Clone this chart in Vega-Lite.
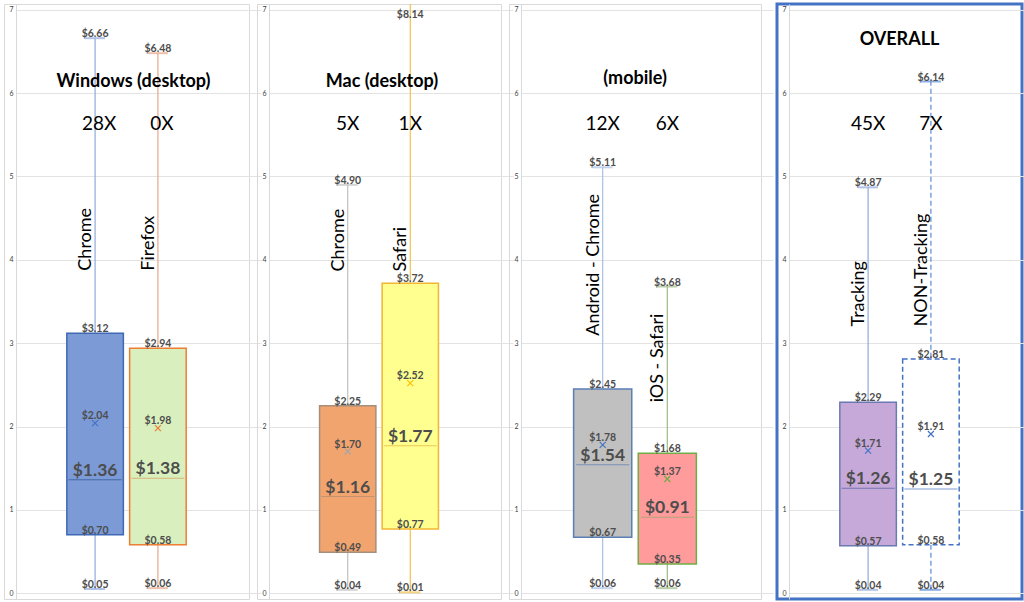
{
  "$schema": "https://vega.github.io/schema/vega-lite/v6.json",
  "background": "white",
  "padding": {"left": 3, "top": 2, "right": 2, "bottom": 2},
  "config": {
    "font": "Lato",
    "view": {"stroke": "#d9d9d9", "strokeWidth": 1},
    "axisY": {"offset": -12, "ticks": false, "labelPadding": 3, "labelFontSize": 7, "labelColor": "#404040", "domainColor": "#d9d9d9", "gridColor": "#e3e3e3", "labelFont": "Lato", "format": "d"}
  },
  "datasets": {
    "stats": [
      {"panel": "win", "title": "Windows (desktop)", "key": "win_chrome", "name": "Chrome", "min": 0.05, "q1": 0.70, "median": 1.36, "mean": 2.04, "q3": 3.12, "max": 6.66, "count": "28X"},
      {"panel": "win", "title": "Windows (desktop)", "key": "win_firefox", "name": "Firefox", "min": 0.06, "q1": 0.58, "median": 1.38, "mean": 1.98, "q3": 2.94, "max": 6.48, "count": "0X"},
      {"panel": "mac", "title": "Mac (desktop)", "key": "mac_chrome", "name": "Chrome", "min": 0.04, "q1": 0.49, "median": 1.16, "mean": 1.70, "q3": 2.25, "max": 4.90, "count": "5X"},
      {"panel": "mac", "title": "Mac (desktop)", "key": "mac_safari", "name": "Safari", "min": 0.01, "q1": 0.77, "median": 1.77, "mean": 2.52, "q3": 3.72, "max": 8.14, "count": "1X"},
      {"panel": "mob", "title": "(mobile)", "key": "and_chrome", "name": "Android - Chrome", "min": 0.06, "q1": 0.67, "median": 1.54, "mean": 1.78, "q3": 2.45, "max": 5.11, "count": "12X"},
      {"panel": "mob", "title": "(mobile)", "key": "ios_safari", "name": "iOS - Safari", "min": 0.06, "q1": 0.35, "median": 0.91, "mean": 1.37, "q3": 1.68, "max": 3.68, "count": "6X"},
      {"panel": "all", "title": "OVERALL", "key": "tracking", "name": "Tracking", "min": 0.04, "q1": 0.57, "median": 1.26, "mean": 1.71, "q3": 2.29, "max": 4.87, "count": "45X"},
      {"panel": "all", "title": "OVERALL", "key": "nontracking", "name": "NON-Tracking", "min": 0.04, "q1": 0.58, "median": 1.25, "mean": 1.91, "q3": 2.81, "max": 6.14, "count": "7X"}
    ]
  },
  "spacing": 13,
  "hconcat": [
    {
      "bounds": "flush",
      "spacing": 8,
      "hconcat": [
        {
          "width": 245, "height": 595,
          "data": {"name": "stats"},
          "transform": [{"filter": "datum.panel == 'win'"}],
          "resolve": {"scale": {"color": "independent"}},
          "encoding": {"x": {"field": "key", "type": "nominal", "sort": null, "axis": null, "scale": {"paddingInner": 0.1, "paddingOuter": 1.125}}},
          "layer": [
            {"mark": {"type": "rule", "clip": true, "strokeWidth": 1.2},
             "encoding": {"y": {"field": "min", "type": "quantitative", "title": null, "scale": {"domain": [-0.07, 7.07], "nice": false, "zero": false}, "axis": {"values": [0, 1, 2, 3, 4, 5, 6, 7]}},
               "y2": {"field": "max"},
               "color": {"field": "key", "type": "nominal", "legend": null, "scale": {"domain": ["win_chrome", "win_firefox", "mac_chrome", "mac_safari", "and_chrome", "ios_safari", "tracking", "nontracking"], "range": ["#8faadc", "#e8a58a", "#c0c0c0", "#f2c14e", "#a9c0e4", "#9dbb85", "#8faadc", "#5b8bd6"]}}}},
            {"mark": {"type": "tick", "clip": true, "size": 20, "thickness": 2},
             "transform": [{"fold": ["min", "max"], "as": ["stat", "value"]}],
             "encoding": {"y": {"field": "value", "type": "quantitative", "title": null, "scale": {"domain": [-0.07, 7.07], "nice": false, "zero": false}},
               "color": {"field": "key", "type": "nominal", "legend": null, "scale": {"domain": ["win_chrome", "win_firefox", "mac_chrome", "mac_safari", "and_chrome", "ios_safari", "tracking", "nontracking"], "range": ["#8faadc", "#e8a58a", "#c0c0c0", "#f2c14e", "#a9c0e4", "#9dbb85", "#8faadc", "#5b8bd6"]}}}},
            {"mark": {"type": "bar", "strokeWidth": 1.5},
             "encoding": {"y": {"field": "q1", "type": "quantitative", "title": null, "scale": {"domain": [-0.07, 7.07], "nice": false, "zero": false}},
               "y2": {"field": "q3"},
               "fill": {"field": "key", "type": "nominal", "legend": null, "scale": {"domain": ["win_chrome", "win_firefox", "mac_chrome", "mac_safari", "and_chrome", "ios_safari", "tracking", "nontracking"], "range": ["#7b9ad6", "#d9f0be", "#f2a46f", "#ffff8f", "#c0c0c0", "#ff9b9b", "#c6a9d8", "#ffffff"]}},
               "stroke": {"field": "key", "type": "nominal", "legend": null, "scale": {"domain": ["win_chrome", "win_firefox", "mac_chrome", "mac_safari", "and_chrome", "ios_safari", "tracking", "nontracking"], "range": ["#3f68b5", "#ed7d31", "#a58e7c", "#f2b630", "#5b7fb4", "#70ad47", "#6b79b3", "#4472c4"]}}}},
            {"mark": {"type": "tick", "size": 53, "thickness": 1},
             "encoding": {"y": {"field": "median", "type": "quantitative", "title": null, "scale": {"domain": [-0.07, 7.07], "nice": false, "zero": false}},
               "color": {"field": "key", "type": "nominal", "legend": null, "scale": {"domain": ["win_chrome", "win_firefox", "mac_chrome", "mac_safari", "and_chrome", "ios_safari", "tracking", "nontracking"], "range": ["#2f5597", "#d9985a", "#b08b70", "#e0b040", "#5b7fb4", "#8fae6a", "#4f62a0", "#4472c4"]}}}},
            {"mark": {"type": "point", "shape": "M-1,-1L1,1M-1,1L1,-1", "filled": false, "size": 36, "strokeWidth": 1.2, "opacity": 1},
             "encoding": {"y": {"field": "mean", "type": "quantitative", "title": null, "scale": {"domain": [-0.07, 7.07], "nice": false, "zero": false}},
               "color": {"field": "key", "type": "nominal", "legend": null, "scale": {"domain": ["win_chrome", "win_firefox", "mac_chrome", "mac_safari", "and_chrome", "ios_safari", "tracking", "nontracking"], "range": ["#4472c4", "#ed7d31", "#a5a5a5", "#ffc000", "#4472c4", "#70ad47", "#4472c4", "#4472c4"]}}}},
            {"mark": {"type": "text", "baseline": "alphabetic", "dy": -1, "fontSize": 10.5, "fontWeight": "bold", "color": "#4d4d4d"},
             "transform": [{"fold": ["min", "q1", "q3", "max"], "as": ["stat", "value"]}, {"filter": "datum.value <= 7"}],
             "encoding": {"y": {"field": "value", "type": "quantitative", "title": null, "scale": {"domain": [-0.07, 7.07], "nice": false, "zero": false}},
               "text": {"field": "value", "type": "quantitative", "format": "$.2f"}}},
            {"mark": {"type": "text", "baseline": "alphabetic", "dy": -4, "fontSize": 10.5, "fontWeight": "bold", "color": "#4d4d4d"},
             "encoding": {"y": {"field": "mean", "type": "quantitative", "title": null, "scale": {"domain": [-0.07, 7.07], "nice": false, "zero": false}},
               "text": {"field": "mean", "type": "quantitative", "format": "$.2f"}}},
            {"mark": {"type": "text", "baseline": "alphabetic", "dy": -4, "fontSize": 17.5, "fontWeight": "bold", "color": "#4d4d4d"},
             "encoding": {"y": {"field": "median", "type": "quantitative", "title": null, "scale": {"domain": [-0.07, 7.07], "nice": false, "zero": false}},
               "text": {"field": "median", "type": "quantitative", "format": "$.2f"}}},
            {"mark": {"type": "text", "baseline": "middle", "fontSize": 19, "color": "black", "dx": 4},
             "encoding": {"y": {"datum": 5.63}, "text": {"field": "count"}}},
            {"mark": {"type": "text", "baseline": "middle", "fontSize": 18, "fontWeight": "bold", "color": "black", "dx": 7},
             "transform": [{"filter": "datum.key == 'win_chrome'"}],
             "encoding": {"x": {"field": "key", "type": "nominal", "sort": null, "axis": null, "bandPosition": 1.056}, "y": {"datum": 6.14}, "text": {"field": "title"}}},
            {"mark": {"type": "text", "angle": 270, "align": "left", "baseline": "bottom", "fontSize": 18, "color": "black"},
             "encoding": {"y": {"datum": 3.87}, "text": {"field": "name"}}}
          ]
        },
        {
          "width": 244, "height": 595,
          "data": {"name": "stats"},
          "transform": [{"filter": "datum.panel == 'mac'"}],
          "resolve": {"scale": {"color": "independent"}},
          "encoding": {"x": {"field": "key", "type": "nominal", "sort": null, "axis": null, "scale": {"paddingInner": 0.1, "paddingOuter": 1.125}}},
          "layer": [
            {"mark": {"type": "rule", "clip": true, "strokeWidth": 1.2},
             "encoding": {"y": {"field": "min", "type": "quantitative", "title": null, "scale": {"domain": [-0.07, 7.07], "nice": false, "zero": false}, "axis": {"values": [0, 1, 2, 3, 4, 5, 6, 7]}},
               "y2": {"field": "max"},
               "color": {"field": "key", "type": "nominal", "legend": null, "scale": {"domain": ["win_chrome", "win_firefox", "mac_chrome", "mac_safari", "and_chrome", "ios_safari", "tracking", "nontracking"], "range": ["#8faadc", "#e8a58a", "#c0c0c0", "#f2c14e", "#a9c0e4", "#9dbb85", "#8faadc", "#5b8bd6"]}}}},
            {"mark": {"type": "tick", "clip": true, "size": 20, "thickness": 2},
             "transform": [{"fold": ["min", "max"], "as": ["stat", "value"]}],
             "encoding": {"y": {"field": "value", "type": "quantitative", "title": null, "scale": {"domain": [-0.07, 7.07], "nice": false, "zero": false}},
               "color": {"field": "key", "type": "nominal", "legend": null, "scale": {"domain": ["win_chrome", "win_firefox", "mac_chrome", "mac_safari", "and_chrome", "ios_safari", "tracking", "nontracking"], "range": ["#8faadc", "#e8a58a", "#c0c0c0", "#f2c14e", "#a9c0e4", "#9dbb85", "#8faadc", "#5b8bd6"]}}}},
            {"mark": {"type": "bar", "strokeWidth": 1.5},
             "encoding": {"y": {"field": "q1", "type": "quantitative", "title": null, "scale": {"domain": [-0.07, 7.07], "nice": false, "zero": false}},
               "y2": {"field": "q3"},
               "fill": {"field": "key", "type": "nominal", "legend": null, "scale": {"domain": ["win_chrome", "win_firefox", "mac_chrome", "mac_safari", "and_chrome", "ios_safari", "tracking", "nontracking"], "range": ["#7b9ad6", "#d9f0be", "#f2a46f", "#ffff8f", "#c0c0c0", "#ff9b9b", "#c6a9d8", "#ffffff"]}},
               "stroke": {"field": "key", "type": "nominal", "legend": null, "scale": {"domain": ["win_chrome", "win_firefox", "mac_chrome", "mac_safari", "and_chrome", "ios_safari", "tracking", "nontracking"], "range": ["#3f68b5", "#ed7d31", "#a58e7c", "#f2b630", "#5b7fb4", "#70ad47", "#6b79b3", "#4472c4"]}}}},
            {"mark": {"type": "tick", "size": 53, "thickness": 1},
             "encoding": {"y": {"field": "median", "type": "quantitative", "title": null, "scale": {"domain": [-0.07, 7.07], "nice": false, "zero": false}},
               "color": {"field": "key", "type": "nominal", "legend": null, "scale": {"domain": ["win_chrome", "win_firefox", "mac_chrome", "mac_safari", "and_chrome", "ios_safari", "tracking", "nontracking"], "range": ["#2f5597", "#d9985a", "#b08b70", "#e0b040", "#5b7fb4", "#8fae6a", "#4f62a0", "#4472c4"]}}}},
            {"mark": {"type": "point", "shape": "M-1,-1L1,1M-1,1L1,-1", "filled": false, "size": 36, "strokeWidth": 1.2, "opacity": 1},
             "encoding": {"y": {"field": "mean", "type": "quantitative", "title": null, "scale": {"domain": [-0.07, 7.07], "nice": false, "zero": false}},
               "color": {"field": "key", "type": "nominal", "legend": null, "scale": {"domain": ["win_chrome", "win_firefox", "mac_chrome", "mac_safari", "and_chrome", "ios_safari", "tracking", "nontracking"], "range": ["#4472c4", "#ed7d31", "#a5a5a5", "#ffc000", "#4472c4", "#70ad47", "#4472c4", "#4472c4"]}}}},
            {"mark": {"type": "text", "baseline": "alphabetic", "dy": -1, "fontSize": 10.5, "fontWeight": "bold", "color": "#4d4d4d"},
             "transform": [{"fold": ["min", "q1", "q3", "max"], "as": ["stat", "value"]}, {"filter": "datum.value <= 7"}],
             "encoding": {"y": {"field": "value", "type": "quantitative", "title": null, "scale": {"domain": [-0.07, 7.07], "nice": false, "zero": false}},
               "text": {"field": "value", "type": "quantitative", "format": "$.2f"}}},
            {"mark": {"type": "text", "baseline": "top", "dy": 0, "fontSize": 10.5, "fontWeight": "bold", "color": "#4d4d4d"},
             "transform": [{"filter": "datum.max > 7"}],
             "encoding": {"y": {"datum": 7}, "text": {"field": "max", "type": "quantitative", "format": "$.2f"}}},
            {"mark": {"type": "text", "baseline": "alphabetic", "dy": -4, "fontSize": 10.5, "fontWeight": "bold", "color": "#4d4d4d"},
             "encoding": {"y": {"field": "mean", "type": "quantitative", "title": null, "scale": {"domain": [-0.07, 7.07], "nice": false, "zero": false}},
               "text": {"field": "mean", "type": "quantitative", "format": "$.2f"}}},
            {"mark": {"type": "text", "baseline": "alphabetic", "dy": -4, "fontSize": 17.5, "fontWeight": "bold", "color": "#4d4d4d"},
             "encoding": {"y": {"field": "median", "type": "quantitative", "title": null, "scale": {"domain": [-0.07, 7.07], "nice": false, "zero": false}},
               "text": {"field": "median", "type": "quantitative", "format": "$.2f"}}},
            {"mark": {"type": "text", "baseline": "middle", "fontSize": 19, "color": "black"},
             "encoding": {"y": {"datum": 5.63}, "text": {"field": "count"}}},
            {"mark": {"type": "text", "baseline": "middle", "fontSize": 18, "fontWeight": "bold", "color": "black", "dx": 3},
             "transform": [{"filter": "datum.key == 'mac_chrome'"}],
             "encoding": {"x": {"field": "key", "type": "nominal", "sort": null, "axis": null, "bandPosition": 1.056}, "y": {"datum": 6.14}, "text": {"field": "title"}}},
            {"mark": {"type": "text", "angle": 270, "align": "left", "baseline": "bottom", "fontSize": 18, "color": "black"},
             "encoding": {"y": {"datum": 3.86}, "text": {"field": "name"}}}
          ]
        },
        {
          "width": 252, "height": 595,
          "data": {"name": "stats"},
          "transform": [{"filter": "datum.panel == 'mob'"}],
          "resolve": {"scale": {"color": "independent"}},
          "encoding": {"x": {"field": "key", "type": "nominal", "sort": null, "axis": null, "scale": {"paddingInner": 0.1, "paddingOuter": 1.125}}},
          "layer": [
            {"mark": {"type": "rule", "clip": true, "strokeWidth": 1.2},
             "encoding": {"y": {"field": "min", "type": "quantitative", "title": null, "scale": {"domain": [-0.07, 7.07], "nice": false, "zero": false}, "axis": {"values": [0, 1, 2, 3, 4, 5, 6, 7]}},
               "y2": {"field": "max"},
               "color": {"field": "key", "type": "nominal", "legend": null, "scale": {"domain": ["win_chrome", "win_firefox", "mac_chrome", "mac_safari", "and_chrome", "ios_safari", "tracking", "nontracking"], "range": ["#8faadc", "#e8a58a", "#c0c0c0", "#f2c14e", "#a9c0e4", "#9dbb85", "#8faadc", "#5b8bd6"]}}}},
            {"mark": {"type": "tick", "clip": true, "size": 20, "thickness": 2},
             "transform": [{"fold": ["min", "max"], "as": ["stat", "value"]}],
             "encoding": {"y": {"field": "value", "type": "quantitative", "title": null, "scale": {"domain": [-0.07, 7.07], "nice": false, "zero": false}},
               "color": {"field": "key", "type": "nominal", "legend": null, "scale": {"domain": ["win_chrome", "win_firefox", "mac_chrome", "mac_safari", "and_chrome", "ios_safari", "tracking", "nontracking"], "range": ["#8faadc", "#e8a58a", "#c0c0c0", "#f2c14e", "#a9c0e4", "#9dbb85", "#8faadc", "#5b8bd6"]}}}},
            {"mark": {"type": "bar", "strokeWidth": 1.5},
             "encoding": {"y": {"field": "q1", "type": "quantitative", "title": null, "scale": {"domain": [-0.07, 7.07], "nice": false, "zero": false}},
               "y2": {"field": "q3"},
               "fill": {"field": "key", "type": "nominal", "legend": null, "scale": {"domain": ["win_chrome", "win_firefox", "mac_chrome", "mac_safari", "and_chrome", "ios_safari", "tracking", "nontracking"], "range": ["#7b9ad6", "#d9f0be", "#f2a46f", "#ffff8f", "#c0c0c0", "#ff9b9b", "#c6a9d8", "#ffffff"]}},
               "stroke": {"field": "key", "type": "nominal", "legend": null, "scale": {"domain": ["win_chrome", "win_firefox", "mac_chrome", "mac_safari", "and_chrome", "ios_safari", "tracking", "nontracking"], "range": ["#3f68b5", "#ed7d31", "#a58e7c", "#f2b630", "#5b7fb4", "#70ad47", "#6b79b3", "#4472c4"]}}}},
            {"mark": {"type": "tick", "size": 53, "thickness": 1},
             "encoding": {"y": {"field": "median", "type": "quantitative", "title": null, "scale": {"domain": [-0.07, 7.07], "nice": false, "zero": false}},
               "color": {"field": "key", "type": "nominal", "legend": null, "scale": {"domain": ["win_chrome", "win_firefox", "mac_chrome", "mac_safari", "and_chrome", "ios_safari", "tracking", "nontracking"], "range": ["#2f5597", "#d9985a", "#b08b70", "#e0b040", "#5b7fb4", "#8fae6a", "#4f62a0", "#4472c4"]}}}},
            {"mark": {"type": "point", "shape": "M-1,-1L1,1M-1,1L1,-1", "filled": false, "size": 36, "strokeWidth": 1.2, "opacity": 1},
             "encoding": {"y": {"field": "mean", "type": "quantitative", "title": null, "scale": {"domain": [-0.07, 7.07], "nice": false, "zero": false}},
               "color": {"field": "key", "type": "nominal", "legend": null, "scale": {"domain": ["win_chrome", "win_firefox", "mac_chrome", "mac_safari", "and_chrome", "ios_safari", "tracking", "nontracking"], "range": ["#4472c4", "#ed7d31", "#a5a5a5", "#ffc000", "#4472c4", "#70ad47", "#4472c4", "#4472c4"]}}}},
            {"mark": {"type": "text", "baseline": "alphabetic", "dy": -1, "fontSize": 10.5, "fontWeight": "bold", "color": "#4d4d4d"},
             "transform": [{"fold": ["min", "q1", "q3", "max"], "as": ["stat", "value"]}, {"filter": "datum.value <= 7"}],
             "encoding": {"y": {"field": "value", "type": "quantitative", "title": null, "scale": {"domain": [-0.07, 7.07], "nice": false, "zero": false}},
               "text": {"field": "value", "type": "quantitative", "format": "$.2f"}}},
            {"mark": {"type": "text", "baseline": "alphabetic", "dy": -4, "fontSize": 10.5, "fontWeight": "bold", "color": "#4d4d4d"},
             "encoding": {"y": {"field": "mean", "type": "quantitative", "title": null, "scale": {"domain": [-0.07, 7.07], "nice": false, "zero": false}},
               "text": {"field": "mean", "type": "quantitative", "format": "$.2f"}}},
            {"mark": {"type": "text", "baseline": "alphabetic", "dy": -4, "fontSize": 17.5, "fontWeight": "bold", "color": "#4d4d4d"},
             "encoding": {"y": {"field": "median", "type": "quantitative", "title": null, "scale": {"domain": [-0.07, 7.07], "nice": false, "zero": false}},
               "text": {"field": "median", "type": "quantitative", "format": "$.2f"}}},
            {"mark": {"type": "text", "baseline": "middle", "fontSize": 19, "color": "black"},
             "encoding": {"y": {"datum": 5.63}, "text": {"field": "count"}}},
            {"mark": {"type": "text", "baseline": "middle", "fontSize": 18, "fontWeight": "bold", "color": "black"},
             "transform": [{"filter": "datum.key == 'and_chrome'"}],
             "encoding": {"x": {"field": "key", "type": "nominal", "sort": null, "axis": null, "bandPosition": 1.056}, "y": {"datum": 6.17}, "text": {"field": "title"}}},
            {"mark": {"type": "text", "angle": 270, "align": "left", "baseline": "bottom", "fontSize": 18, "color": "black"},
             "transform": [{"filter": "datum.key == 'and_chrome'"}],
             "encoding": {"y": {"datum": 3.09}, "text": {"field": "name"}}},
            {"mark": {"type": "text", "angle": 270, "align": "left", "baseline": "bottom", "fontSize": 18, "color": "black"},
             "transform": [{"filter": "datum.key == 'ios_safari'"}],
             "encoding": {"y": {"datum": 2.29}, "text": {"field": "name"}}}
          ]
        }
      ]
    },
    {
      "width": 245, "height": 595,
      "view": {"stroke": "#4472c4", "strokeWidth": 3},
      "data": {"name": "stats"},
      "transform": [{"filter": "datum.panel == 'all'"}],
      "resolve": {"scale": {"color": "independent"}},
      "encoding": {"x": {"field": "key", "type": "nominal", "sort": null, "axis": null, "scale": {"paddingInner": 0.1, "paddingOuter": 1.125}}},
      "layer": [
        {"mark": {"type": "rule", "clip": true, "strokeWidth": 1.2},
         "encoding": {"y": {"field": "min", "type": "quantitative", "title": null, "scale": {"domain": [-0.07, 7.07], "nice": false, "zero": false}, "axis": {"values": [0, 1, 2, 3, 4, 5, 6, 7]}},
           "y2": {"field": "max"},
           "strokeDash": {"field": "key", "type": "nominal", "legend": null, "scale": {"domain": ["tracking", "nontracking"], "range": [[1, 0], [5, 3]]}},
           "color": {"field": "key", "type": "nominal", "legend": null, "scale": {"domain": ["win_chrome", "win_firefox", "mac_chrome", "mac_safari", "and_chrome", "ios_safari", "tracking", "nontracking"], "range": ["#8faadc", "#e8a58a", "#c0c0c0", "#f2c14e", "#a9c0e4", "#9dbb85", "#8faadc", "#5b8bd6"]}}}},
        {"mark": {"type": "tick", "clip": true, "size": 20, "thickness": 2},
         "transform": [{"fold": ["min", "max"], "as": ["stat", "value"]}],
         "encoding": {"y": {"field": "value", "type": "quantitative", "title": null, "scale": {"domain": [-0.07, 7.07], "nice": false, "zero": false}},
           "color": {"field": "key", "type": "nominal", "legend": null, "scale": {"domain": ["win_chrome", "win_firefox", "mac_chrome", "mac_safari", "and_chrome", "ios_safari", "tracking", "nontracking"], "range": ["#8faadc", "#e8a58a", "#c0c0c0", "#f2c14e", "#a9c0e4", "#9dbb85", "#8faadc", "#5b8bd6"]}}}},
        {"mark": {"type": "bar", "strokeWidth": 1.5},
         "encoding": {"y": {"field": "q1", "type": "quantitative", "title": null, "scale": {"domain": [-0.07, 7.07], "nice": false, "zero": false}},
           "y2": {"field": "q3"},
           "strokeDash": {"field": "key", "type": "nominal", "legend": null, "scale": {"domain": ["tracking", "nontracking"], "range": [[1, 0], [5, 3]]}},
           "fill": {"field": "key", "type": "nominal", "legend": null, "scale": {"domain": ["win_chrome", "win_firefox", "mac_chrome", "mac_safari", "and_chrome", "ios_safari", "tracking", "nontracking"], "range": ["#7b9ad6", "#d9f0be", "#f2a46f", "#ffff8f", "#c0c0c0", "#ff9b9b", "#c6a9d8", "#ffffff"]}},
           "stroke": {"field": "key", "type": "nominal", "legend": null, "scale": {"domain": ["win_chrome", "win_firefox", "mac_chrome", "mac_safari", "and_chrome", "ios_safari", "tracking", "nontracking"], "range": ["#3f68b5", "#ed7d31", "#a58e7c", "#f2b630", "#5b7fb4", "#70ad47", "#6b79b3", "#4472c4"]}}}},
        {"mark": {"type": "tick", "size": 53, "thickness": 1},
         "encoding": {"y": {"field": "median", "type": "quantitative", "title": null, "scale": {"domain": [-0.07, 7.07], "nice": false, "zero": false}},
           "color": {"field": "key", "type": "nominal", "legend": null, "scale": {"domain": ["win_chrome", "win_firefox", "mac_chrome", "mac_safari", "and_chrome", "ios_safari", "tracking", "nontracking"], "range": ["#2f5597", "#d9985a", "#b08b70", "#e0b040", "#5b7fb4", "#8fae6a", "#4f62a0", "#4472c4"]}}}},
        {"mark": {"type": "point", "shape": "M-1,-1L1,1M-1,1L1,-1", "filled": false, "size": 36, "strokeWidth": 1.2, "opacity": 1},
         "encoding": {"y": {"field": "mean", "type": "quantitative", "title": null, "scale": {"domain": [-0.07, 7.07], "nice": false, "zero": false}},
           "color": {"field": "key", "type": "nominal", "legend": null, "scale": {"domain": ["win_chrome", "win_firefox", "mac_chrome", "mac_safari", "and_chrome", "ios_safari", "tracking", "nontracking"], "range": ["#4472c4", "#ed7d31", "#a5a5a5", "#ffc000", "#4472c4", "#70ad47", "#4472c4", "#4472c4"]}}}},
        {"mark": {"type": "text", "baseline": "alphabetic", "dy": -1, "fontSize": 10.5, "fontWeight": "bold", "color": "#4d4d4d"},
         "transform": [{"fold": ["min", "q1", "q3", "max"], "as": ["stat", "value"]}, {"filter": "datum.value <= 7"}],
         "encoding": {"y": {"field": "value", "type": "quantitative", "title": null, "scale": {"domain": [-0.07, 7.07], "nice": false, "zero": false}},
           "text": {"field": "value", "type": "quantitative", "format": "$.2f"}}},
        {"mark": {"type": "text", "baseline": "alphabetic", "dy": -4, "fontSize": 10.5, "fontWeight": "bold", "color": "#4d4d4d"},
         "encoding": {"y": {"field": "mean", "type": "quantitative", "title": null, "scale": {"domain": [-0.07, 7.07], "nice": false, "zero": false}},
           "text": {"field": "mean", "type": "quantitative", "format": "$.2f"}}},
        {"mark": {"type": "text", "baseline": "alphabetic", "dy": -4, "fontSize": 17.5, "fontWeight": "bold", "color": "#4d4d4d"},
         "encoding": {"y": {"field": "median", "type": "quantitative", "title": null, "scale": {"domain": [-0.07, 7.07], "nice": false, "zero": false}},
           "text": {"field": "median", "type": "quantitative", "format": "$.2f"}}},
        {"mark": {"type": "text", "baseline": "middle", "fontSize": 19, "color": "black"},
         "encoding": {"y": {"datum": 5.63}, "text": {"field": "count"}}},
        {"mark": {"type": "text", "baseline": "middle", "fontSize": 18, "fontWeight": "bold", "color": "black"},
         "transform": [{"filter": "datum.key == 'tracking'"}],
         "encoding": {"x": {"field": "key", "type": "nominal", "sort": null, "axis": null, "bandPosition": 1.056}, "y": {"datum": 6.64}, "text": {"field": "title"}}},
        {"mark": {"type": "text", "angle": 270, "align": "left", "baseline": "bottom", "fontSize": 18, "color": "black"},
         "encoding": {"y": {"datum": 3.2}, "text": {"field": "name"}}}
      ]
    }
  ]
}
